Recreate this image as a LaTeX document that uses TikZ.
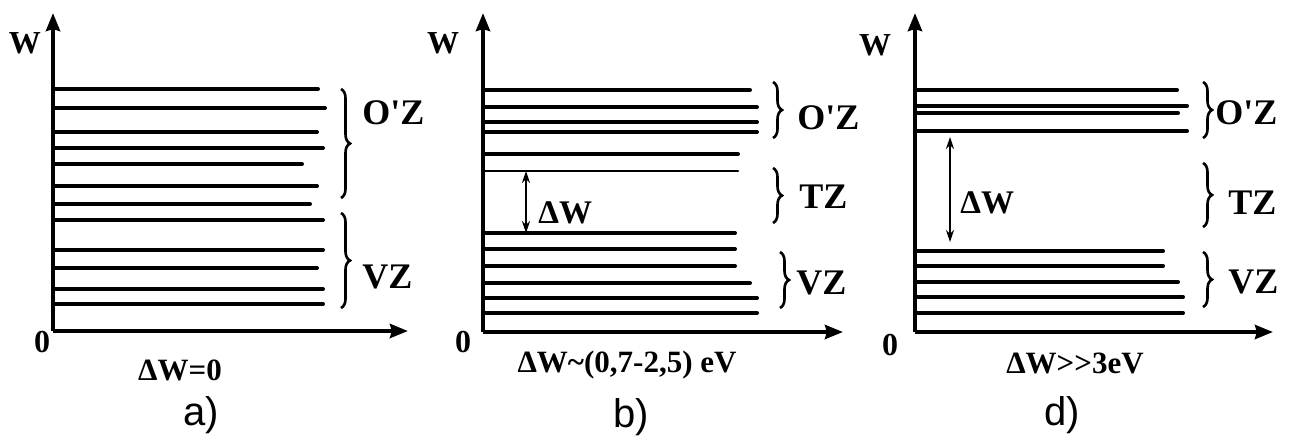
\documentclass[tikz,border=0pt]{standalone}
\usepackage{fontspec}
\setmainfont{Liberation Serif}
\newfontfamily\tagfont{Liberation Sans}
\usepackage{tikz}
\usetikzlibrary{arrows.meta, positioning, decorations.pathreplacing}

\begin{document}
\begin{tikzpicture}[
    x=0.5pt, y=-0.5pt,
    every node/.style={inner sep=0pt},
    axis/.style={line width=2.2pt, -{Stealth[length=9pt, width=7pt, inset=1pt]}},
    level/.style={line width=2pt, line cap=round},
    thinlevel/.style={line width=1.3pt, line cap=round},
    gaparrow/.style={line width=1.3pt, {Stealth[length=6pt, width=4pt]}-{Stealth[length=6pt, width=4pt]}},
    zonebrace/.style={decorate, decoration={brace, amplitude=4.5pt}, line width=1.3pt},
    zonelabel/.style={font=\fontsize{18}{20}\selectfont\bfseries, anchor=west},
    axislabel/.style={font=\fontsize{16}{18}\selectfont\bfseries},
    gaplabel/.style={font=\fontsize{16.5}{18}\selectfont\bfseries, anchor=west},
    caption/.style={font=\fontsize{15.5}{17}\selectfont\bfseries},
    paneltag/.style={font=\tagfont\fontsize{20}{22}\selectfont},
]
\useasboundingbox (0,0) rectangle (1294,446);

% --- Panel a ---
\coordinate (a-o) at (53,331);
\coordinate (a-y) at (53,13);
\coordinate (a-x) at (408,331);
\draw[axis] (a-o) -- (a-y);
\draw[axis] (a-o) -- (a-x);
\foreach \y/\e in {89/318, 108/325, 132/317, 148/323, 164/302, 186/317,
                   204/310, 220/323, 250/323, 268/317, 289/323, 304/323}
    \draw[level] (53,\y) -- (\e,\y);
\draw[zonebrace] (341,89) -- (341,198);
\draw[zonebrace] (341,213) -- (341,308);
\node[zonelabel] (a-oz) at (362,113) {O\textquotesingle Z};
\node[zonelabel] (a-vz) at (362,277) {VZ};
\node[axislabel] (a-w) at (25,43) {W};
\node[axislabel] (a-zero) at (42,342) {0};
\node[caption] (a-cap) at (180,370) {ΔW=0};
\node[paneltag] (a-tag) at (201,415) {a)};

% --- Panel b ---
\coordinate (b-o) at (483,332);
\coordinate (b-y) at (483,13);
\coordinate (b-x) at (843,332);
\draw[axis] (b-o) -- (b-y);
\draw[axis] (b-o) -- (b-x);
\foreach \y/\e in {90/750, 107/757, 122/757, 132/757, 154/738,
                   233/735, 249/735, 266/735, 283/750, 298/757, 313/757}
    \draw[level] (483,\y) -- (\e,\y);
\draw[thinlevel] (483,171) -- (738,171);
\coordinate (b-top) at (526,171);
\coordinate (b-bot) at (526,233);
\draw[gaparrow] (b-top) -- (b-bot);
\node[gaplabel] (b-gap) at (538,213) {ΔW};
\draw[zonebrace] (773,82) -- (773,138);
\draw[zonebrace] (773,168) -- (773,223);
\draw[zonebrace] (780,252) -- (780,308);
\node[zonelabel] (b-oz) at (797,118) {O\textquotesingle Z};
\node[zonelabel] (b-tz) at (799,197) {TZ};
\node[zonelabel] (b-vz) at (796,283) {VZ};
\node[axislabel] (b-w) at (443,43) {W};
\node[axislabel] (b-zero) at (463,342) {0};
\node[caption] (b-cap) at (627,365) {ΔW\textasciitilde(0,7-2,5) eV};
\node[paneltag] (b-tag) at (631,417) {b)};

% --- Panel d ---
\coordinate (d-o) at (915,332);
\coordinate (d-y) at (915,13);
\coordinate (d-x) at (1273,332);
\draw[axis] (d-o) -- (d-y);
\draw[axis] (d-o) -- (d-x);
\foreach \y/\e in {90/1177, 106/1187, 113/1178, 131/1187,
                   251/1163, 266/1163, 282/1178, 297/1183, 313/1183}
    \draw[level] (915,\y) -- (\e,\y);
\coordinate (d-top) at (950,137);
\coordinate (d-bot) at (950,242);
\draw[gaparrow] (d-top) -- (d-bot);
\node[gaplabel] (d-gap) at (960,203) {ΔW};
\draw[zonebrace] (1203,82) -- (1203,138);
\draw[zonebrace] (1203,163) -- (1203,227);
\draw[zonebrace] (1203,252) -- (1203,307);
\node[zonelabel] (d-oz) at (1215,113) {O\textquotesingle Z};
\node[zonelabel] (d-tz) at (1228,203) {TZ};
\node[zonelabel] (d-vz) at (1228,282) {VZ};
\node[axislabel] (d-w) at (875,45) {W};
\node[axislabel] (d-zero) at (890,345) {0};
\node[caption] (d-cap) at (1075,363) {ΔW>{}>3eV};
\node[paneltag] (d-tag) at (1062,415) {d)};

\end{tikzpicture}
\end{document}
